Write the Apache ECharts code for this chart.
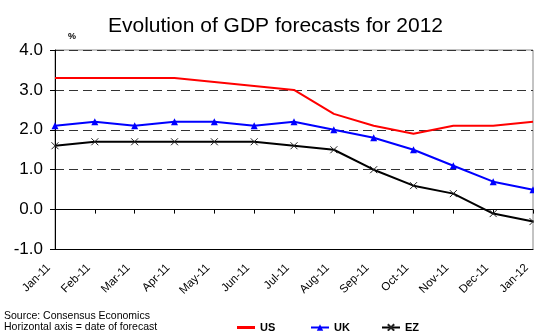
<!DOCTYPE html>
<html>
<head>
<meta charset="utf-8">
<script src="https://cdn.jsdelivr.net/npm/echarts@6/dist/echarts.min.js"></script>
<style>
  html, body { margin: 0; padding: 0; background: #fff; }
  #chart { width: 534px; height: 331px; }
</style>
</head>
<body>
<div id="chart"></div>
<script>
// Forecast dates (horizontal axis)
const months = ['Jan-11', 'Feb-11', 'Mar-11', 'Apr-11', 'May-11', 'Jun-11', 'Jul-11',
                'Aug-11', 'Sep-11', 'Oct-11', 'Nov-11', 'Dec-11', 'Jan-12'];

// Consensus GDP growth forecasts for 2012, %
const us = [3.3, 3.3, 3.3, 3.3, 3.2, 3.1, 3.0, 2.4, 2.1, 1.9, 2.1, 2.1, 2.2];
const uk = [2.1, 2.2, 2.1, 2.2, 2.2, 2.1, 2.2, 2.0, 1.8, 1.5, 1.1, 0.7, 0.5];
const ez = [1.6, 1.7, 1.7, 1.7, 1.7, 1.7, 1.6, 1.5, 1.0, 0.6, 0.4, -0.1, -0.3];

// Vertical axis range
const yMin = -1, yMax = 4, yStep = 1;

const FONT = '"Liberation Sans", Arial, sans-serif';
const crossPath = 'path://M0,0L10,10M10,0L0,10';

const chart = echarts.init(document.getElementById('chart'), null, { renderer: 'canvas' });

function legendFor(item, left, extra) {
  return Object.assign({
    data: [item],
    left: left,
    top: 317,
    itemWidth: 18,
    itemHeight: 8,
    itemGap: 4,
    textStyle: { fontFamily: FONT, fontSize: 11, fontWeight: 'bold', color: '#000' }
  }, extra || {});
}

chart.setOption({
  animation: false,
  backgroundColor: '#fff',
  title: {
    text: 'Evolution of GDP forecasts for 2012',
    left: 103,
    top: 11,
    textStyle: { fontFamily: FONT, fontSize: 21, fontWeight: 'normal', color: '#000' }
  },
  graphic: [
    { type: 'text', left: 68, top: 32,
      style: { text: '%', fontFamily: FONT, fontSize: 9, fontWeight: 'bold', fill: '#000' } },
    { type: 'text', left: 4, top: 311,
      style: { text: 'Source: Consensus Economics', fontFamily: FONT, fontSize: 10.5, fill: '#000' } },
    { type: 'text', left: 4, top: 322,
      style: { text: 'Horizontal axis = date of forecast', fontFamily: FONT, fontSize: 10.5, fill: '#000' } }
  ],
  legend: [
    legendFor({ name: 'US', icon: 'rect', itemStyle: { color: '#ff0000' } }, 232, { itemHeight: 3 }),
    legendFor('UK', 305),
    legendFor('EZ', 376)
  ],
  grid: {
    left: 55, right: 1, top: 50, bottom: 81.5,
    show: true, borderColor: '#888', borderWidth: 1, backgroundColor: 'transparent'
  },
  xAxis: [
    {
      type: 'category',
      data: months,
      boundaryGap: false,
      position: 'bottom',
      axisLine: { onZero: false, lineStyle: { color: '#000', width: 1 } },
      axisTick: { show: false },
      axisLabel: {
        interval: 0, rotate: 45, margin: 10, padding: [0, 9, 0, 0],
        fontFamily: FONT, fontSize: 11.5, color: '#000'
      },
      splitLine: { show: false }
    },
    {
      type: 'category',
      data: months,
      boundaryGap: false,
      position: 'bottom',
      axisLine: { onZero: true, lineStyle: { color: '#000', width: 1 } },
      axisTick: { show: true, interval: 0, length: 4, lineStyle: { color: '#000' } },
      axisLabel: { show: false },
      splitLine: { show: false }
    }
  ],
  yAxis: {
    type: 'value',
    min: yMin, max: yMax, interval: yStep,
    axisLine: { show: true, lineStyle: { color: '#000', width: 1 } },
    axisTick: { show: true, length: 5, lineStyle: { color: '#000' } },
    axisLabel: {
      margin: 12, fontFamily: FONT, fontSize: 17, color: '#000',
      formatter: v => v.toFixed(1)
    },
    splitLine: { show: true, lineStyle: { color: '#333', type: [9, 5], width: 1 } }
  },
  series: [
    {
      name: 'US', type: 'line', data: us, xAxisIndex: 0,
      showSymbol: false, symbol: 'none',
      lineStyle: { color: '#ff0000', width: 2 },
      itemStyle: { color: '#ff0000' }
    },
    {
      name: 'UK', type: 'line', data: uk, xAxisIndex: 0,
      symbol: 'triangle', symbolSize: 7,
      lineStyle: { color: '#0000ff', width: 2 },
      itemStyle: { color: '#0000ff' }
    },
    {
      name: 'EZ', type: 'line', data: ez, xAxisIndex: 0,
      symbol: crossPath, symbolSize: 7,
      lineStyle: { color: '#000', width: 2 },
      itemStyle: { color: 'transparent', borderColor: '#222', borderWidth: 1 }
    }
  ]
});
</script>
</body>
</html>
